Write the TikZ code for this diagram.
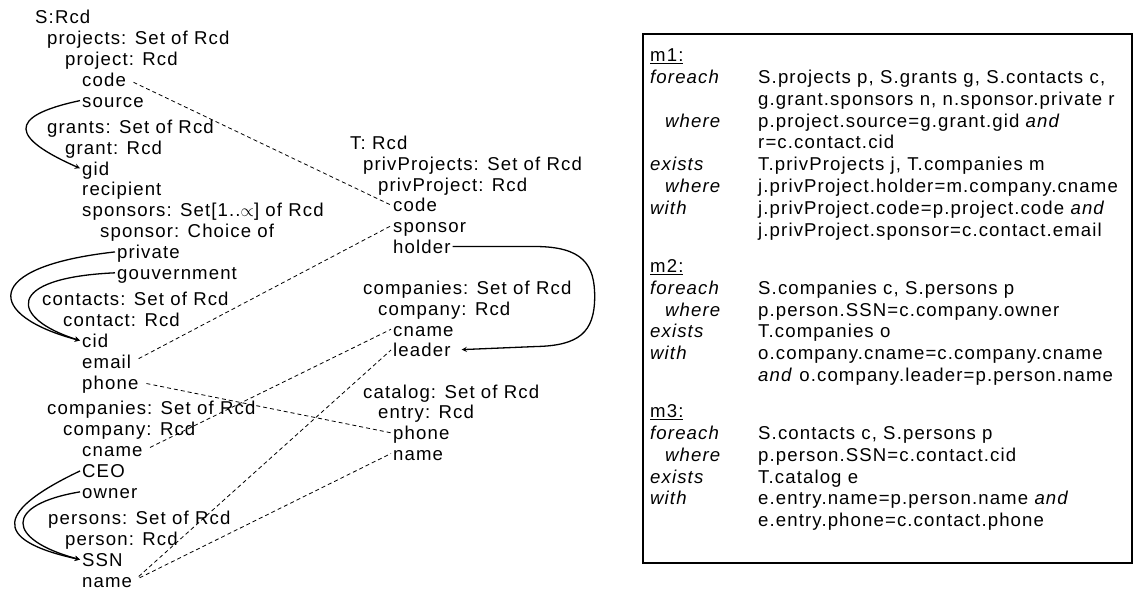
\documentclass[tikz,border=0pt]{standalone}
\usepackage{fontspec}
\setmainfont{Liberation Sans}[LetterSpace=6]

\begin{document}
\begin{tikzpicture}[x=1pt, y=-1pt, >=stealth,
    fld/.style={anchor=west, inner xsep=2pt, inner ysep=0pt,
        text height=13.4pt, text depth=0pt, font=\fontsize{18.6}{21}\selectfont},
    mapline/.style={line width=0.8pt, dash pattern=on 4pt off 3pt, shorten <=6pt},
    refline/.style={->, line width=1.3pt}]
    \useasboundingbox (0,0) rectangle (1135,592);

    % source schema S (rows of 20.9, a little extra before each set)
    \foreach \nm/\x/\r/\txt in {
        s-root/33/0/{S:Rcd}, s-projects/45/1/{projects: Set of Rcd},
        s-project/63/2/{project: Rcd}, s-code/80/3/{code}, s-source/80/4/{source},
        s-grants/45/5.24/{grants: Set of Rcd}, s-grant/63/6.24/{grant: Rcd},
        s-gid/80/7.24/{gid}, s-recipient/80/8.24/{recipient},
        s-sponsors/80/9.24/{sponsors: Set[1..$\propto$] of Rcd},
        s-sponsor/98/10.24/{sponsor: Choice of}, s-private/115/11.24/{private},
        s-gouv/115/12.24/{gouvernment},
        s-contacts/40/13.48/{contacts: Set of Rcd}, s-contact/61/14.48/{contact: Rcd},
        s-cid/80/15.48/{cid}, s-email/80/16.48/{email}, s-phone/80/17.48/{phone},
        s-companies/45/18.72/{companies: Set of Rcd}, s-company/61/19.72/{company: Rcd},
        s-cname/80/20.72/{cname}, s-ceo/80/21.72/{CEO}, s-owner/80/22.72/{owner},
        s-persons/46/23.96/{persons: Set of Rcd}, s-person/63/24.96/{person: Rcd},
        s-ssn/80/25.96/{SSN}, s-name/80/26.96/{name}}
        \node[fld] (\nm) at (\x,{17+20.9*\r}) {\txt};

    % target schema T
    \foreach \nm/\x/\r/\txt in {
        t-root/348/0/{T: Rcd}, t-projects/361/1/{privProjects: Set of Rcd},
        t-project/376/2/{privProject: Rcd}, t-code/391/3/{code},
        t-sponsor/391/4/{sponsor}, t-holder/391/5/{holder},
        t-companies/361/7/{companies: Set of Rcd}, t-company/376/8/{company: Rcd},
        t-cname/391/9/{cname}, t-leader/391/10/{leader},
        t-catalog/361/12/{catalog: Set of Rcd}, t-entry/376/13/{entry: Rcd},
        t-phone/391/14/{phone}, t-name/391/15/{name}}
        \node[fld] (\nm) at (\x,{143+20.7*\r}) {\txt};

    % value correspondences
    \draw[mapline] (s-code.east) -- (t-code.west);
    \draw[mapline] (s-email.east) -- (t-sponsor.west);
    \draw[mapline] (s-phone.east) -- (t-phone.west);
    \draw[mapline] (s-cname.east) -- (t-cname.west);
    \draw[mapline] (s-name.east) -- (t-leader.west);
    \draw[mapline] (s-name.east) -- (t-name.west);

    % referential constraints
    \draw[refline] (s-source.west) .. controls +(-75,16) and +(-68,-30) .. (s-gid.west);
    \draw[refline] (s-private.west) .. controls +(-135,15) and +(-94,-25) .. (s-cid.west);
    \draw[refline] (s-gouv.west) .. controls +(-112,5) and +(-70,-22) .. (s-cid.west);
    \draw[refline] (s-ceo.west) .. controls +(-82,39) and +(-91,-20) .. (s-ssn.west);
    \draw[refline] (s-owner.west) .. controls +(-77,13) and +(-74,-20) .. (s-ssn.west);
    \draw[refline, shorten >=9pt] (t-holder.east) -- ++(82,0)
        .. controls +(48,0) and +(0,-32) .. ++(60,50)
        .. controls +(0,36) and +(42,-1) .. ++(-58,50) -- (t-leader.east);

    % mappings m1, m2, m3
    \draw[line width=1.2pt] (643,34) rectangle (1132,563);
    \foreach \nm/\x/\r/\txt in {
        m1/648/0/{\underline{m1:}}, m1-for/648/1/{\itshape foreach},
        m1-whr/663/3/{\itshape where}, m1-ex/648/5/{\itshape exists},
        m1-exwhr/663/6/{\itshape where}, m1-with/648/7/{\itshape with},
        m2/648/9.667/{\underline{m2:}}, m2-for/648/10.667/{\itshape foreach},
        m2-whr/663/11.667/{\itshape where}, m2-ex/648/12.667/{\itshape exists},
        m2-with/648/13.667/{\itshape with},
        m3/648/16.333/{\underline{m3:}}, m3-for/648/17.333/{\itshape foreach},
        m3-whr/663/18.333/{\itshape where}, m3-ex/648/19.333/{\itshape exists},
        m3-with/648/20.333/{\itshape with}}
        \node[fld] (\nm) at (\x,{55+21.8*\r}) {\txt};
    \foreach \nm/\r/\txt in {
        m1-a/1/{S.projects p, S.grants g, S.contacts c,},
        m1-b/2/{g.grant.sponsors n, n.sponsor.private r},
        m1-c/3/{p.project.source=g.grant.gid \textit{and}},
        m1-d/4/{r=c.contact.cid},
        m1-e/5/{T.privProjects j, T.companies m},
        m1-f/6/{j.privProject.holder=m.company.cname},
        m1-g/7/{j.privProject.code=p.project.code \textit{and}},
        m1-h/8/{j.privProject.sponsor=c.contact.email},
        m2-a/10.667/{S.companies c, S.persons p},
        m2-b/11.667/{p.person.SSN=c.company.owner},
        m2-c/12.667/{T.companies o},
        m2-d/13.667/{o.company.cname=c.company.cname},
        m2-e/14.667/{\textit{and} o.company.leader=p.person.name},
        m3-a/17.333/{S.contacts c, S.persons p},
        m3-b/18.333/{p.person.SSN=c.contact.cid},
        m3-c/19.333/{T.catalog e},
        m3-d/20.333/{e.entry.name=p.person.name \textit{and}},
        m3-e/21.333/{e.entry.phone=c.contact.phone}}
        \node[fld] (\nm) at (756,{55+21.8*\r}) {\txt};
\end{tikzpicture}
\end{document}
